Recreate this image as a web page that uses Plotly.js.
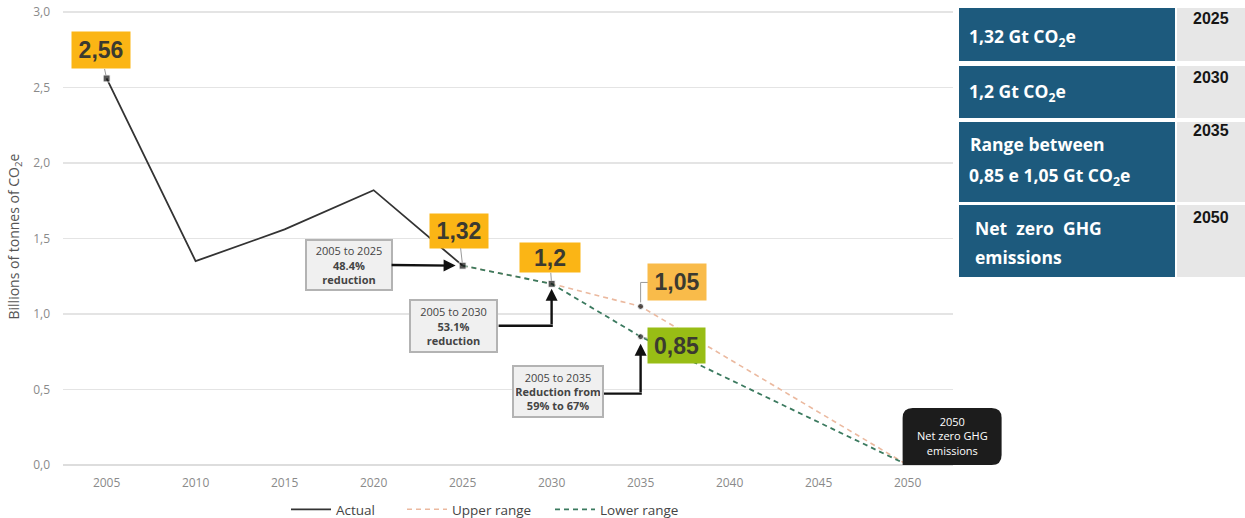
<!DOCTYPE html>
<html>
<head>
<meta charset="utf-8">
<script src="https://cdn.plot.ly/plotly-3.0.1.min.js"></script>
<style>
  html, body { margin: 0; padding: 0; background: #ffffff; }
  #chart { width: 1245px; height: 518px; }
</style>
</head>
<body>
<div id="chart"></div>
<script>
// ---- data ----
const actualYears = [2005, 2010, 2015, 2020, 2025];
const actualValues = [2.56, 1.35, 1.56, 1.82, 1.32];
const projYears = [2025, 2030, 2035, 2050];
const upperValues = [1.32, 1.2, 1.05, 0];
const lowerValues = [1.32, 1.2, 0.85, 0];
const tickYears = [2005, 2010, 2015, 2020, 2025, 2030, 2035, 2040, 2045, 2050];
const yTicks = [0, 0.5, 1.0, 1.5, 2.0, 2.5, 3.0];
const seriesNames = ['Actual', 'Upper range', 'Lower range'];
const baseYear = actualYears[0];
const baseValue = actualValues[0];

// ---- geometry / style ----
const W = 1245, H = 518;
const M = { l: 63, r: 292, t: 8, b: 53, autoexpand: false };
const PW = W - M.l - M.r;
const PH = H - M.t - M.b;
const X_RANGE = [2002.55, 2052.55];
const Y_RANGE = [0, 3.0265];
const px2paperX = px => (px - M.l) / PW;
const px2paperY = py => (H - M.b - py) / PH;
const d2paperX = v => (v - X_RANGE[0]) / (X_RANGE[1] - X_RANGE[0]);
const d2paperY = v => (v - Y_RANGE[0]) / (Y_RANGE[1] - Y_RANGE[0]);

const YELLOW = '#fbb515';
const ORANGE = '#f9bb4a';
const GREEN = '#98bd15';
const BLUE = '#1d5a7d';
const CELL_GREY = '#e7e7e7';
const LABEL_FONT = 'Liberation Sans, Arial, sans-serif';
const BODY_FONT = 'Open Sans, sans-serif';

const fmt = v => String(v).replace('.', ',');
const pct = (v, d) => (100 * (1 - v / baseValue)).toFixed(d);

// ---- traces ----
const actualTrace = {
  x: actualYears, y: actualValues, name: seriesNames[0], legend: 'legend',
  type: 'scatter', mode: 'lines',
  line: { color: '#333333', width: 1.8 }
};
const upperTrace = {
  x: projYears, y: upperValues, name: seriesNames[1], legend: 'legend2',
  type: 'scatter', mode: 'lines',
  line: { color: '#ebb99f', width: 1.6, dash: '5px,4px' }
};
const lowerTrace = {
  x: projYears, y: lowerValues, name: seriesNames[2], legend: 'legend3',
  type: 'scatter', mode: 'lines',
  line: { color: '#3b7a5f', width: 1.8, dash: '5px,4px' }
};
// point markers on the highlighted years
const markerTrace = {
  x: [actualYears[0], actualYears[4], projYears[1], projYears[2], projYears[2]],
  y: [actualValues[0], actualValues[4], lowerValues[1], upperValues[2], lowerValues[2]],
  type: 'scatter', mode: 'markers', showlegend: false, hoverinfo: 'skip',
  marker: { color: '#111111', size: [7, 7, 7, 6, 6],
            symbol: ['square', 'square', 'square', 'circle', 'circle'] }
};

// ---- value labels ----
const valueLabels = [
  { x: actualYears[0], y: actualValues[0], ax: -6, ay: -28, bg: YELLOW, w: 58, h: 36 },
  { x: actualYears[4], y: actualValues[4], ax: -4, ay: -35, bg: YELLOW, w: 58, h: 34 },
  { x: projYears[1], y: lowerValues[1], ax: -2, ay: -26, bg: YELLOW, w: 60, h: 29 },
];
const annotations = valueLabels.map(l => ({
  x: l.x, y: l.y, xref: 'x', yref: 'y',
  text: '<b>' + fmt(l.y) + '</b>',
  showarrow: true, arrowhead: 0, arrowwidth: 1, arrowcolor: '#9a9a9a',
  ax: l.ax, ay: l.ay, standoff: 3,
  bgcolor: l.bg, borderpad: 0, width: l.w, height: l.h,
  font: { family: LABEL_FONT, size: 23, color: '#3b3a30' }
}));
// 2035 range labels (upper leader drawn as an elbow shape)
annotations.push({
  x: projYears[2], y: upperValues[2], xref: 'x', yref: 'y',
  text: '<b>' + fmt(upperValues[2]) + '</b>', showarrow: false,
  xshift: 36, yshift: 24, bgcolor: ORANGE, borderpad: 0, width: 58, height: 36,
  font: { family: LABEL_FONT, size: 23, color: '#3b3a30' }
});
annotations.push({
  x: projYears[2], y: lowerValues[2], xref: 'x', yref: 'y',
  text: '<b>' + fmt(lowerValues[2]) + '</b>',
  showarrow: true, arrowhead: 0, arrowwidth: 1, arrowcolor: '#9a9a9a',
  ax: 36, ay: 9, standoff: 3,
  bgcolor: GREEN, borderpad: 0, width: 57, height: 35,
  font: { family: LABEL_FONT, size: 23, color: '#3b3a30' }
});

// ---- reduction callouts ----
const calloutStyle = {
  xref: 'x', yref: 'y', bgcolor: '#f0f0f0', bordercolor: '#b3b3b3',
  borderwidth: 2, borderpad: 2,
  font: { family: BODY_FONT, size: 11, color: '#444444' }
};
annotations.push(Object.assign({}, calloutStyle, {
  x: actualYears[4], y: actualValues[4],
  text: baseYear + ' to ' + actualYears[4] + '<br><b>' + pct(actualValues[4], 1) + '%</b><br><b>reduction</b>',
  showarrow: true, arrowhead: 2, arrowsize: 1, arrowwidth: 2.4, arrowcolor: '#111111',
  ax: -114, ay: -1, standoff: 7, width: 80, height: 44
}));
annotations.push(Object.assign({}, calloutStyle, {
  x: projYears[1], y: lowerValues[1],
  text: baseYear + ' to ' + projYears[1] + '<br><b>' + pct(lowerValues[1], 1) + '%</b><br><b>reduction</b>',
  showarrow: false, xshift: -98, yshift: -42, width: 81, height: 46
}));
annotations.push(Object.assign({}, calloutStyle, {
  x: projYears[2], y: lowerValues[2],
  text: baseYear + ' to ' + projYears[2] + '<br><b>Reduction from</b><br><b>' +
        pct(upperValues[2], 0) + '% to ' + pct(lowerValues[2], 0) + '%</b>',
  showarrow: false, xshift: -83, yshift: -55, width: 84, height: 45
}));
// vertical arrow legs of the elbow callouts
annotations.push({
  x: projYears[1], y: lowerValues[1], xref: 'x', yref: 'y', text: '',
  showarrow: true, arrowhead: 2, arrowsize: 1, arrowwidth: 2.4, arrowcolor: '#111111',
  ax: 0, ay: 42, standoff: 5
});
annotations.push({
  x: projYears[2], y: lowerValues[2], xref: 'x', yref: 'y', text: '',
  showarrow: true, arrowhead: 2, arrowsize: 1, arrowwidth: 2.4, arrowcolor: '#111111',
  ax: 0, ay: 57, standoff: 7
});

// ---- net zero badge ----
annotations.push({
  x: d2paperX(projYears[3]), y: d2paperY(lowerValues[3]), xref: 'paper', yref: 'paper',
  xanchor: 'center', yanchor: 'middle',
  text: projYears[3] + '<br>Net zero GHG<br>emissions', showarrow: false,
  xshift: 45, yshift: 29,
  font: { family: BODY_FONT, size: 11, color: '#ffffff' }
});

const shapes = [
  // elbow leg for the 2030 callout
  { type: 'line', xref: 'x', yref: 'y', xsizemode: 'pixel', ysizemode: 'pixel',
    xanchor: projYears[1], yanchor: lowerValues[1],
    x0: -53, x1: 1.2, y0: -42, y1: -42, line: { color: '#111111', width: 2.4 } },
  // elbow leg for the 2035 callout
  { type: 'line', xref: 'x', yref: 'y', xsizemode: 'pixel', ysizemode: 'pixel',
    xanchor: projYears[2], yanchor: lowerValues[2],
    x0: -37, x1: 1.2, y0: -57, y1: -57, line: { color: '#111111', width: 2.4 } },
  // elbow leader for the upper 2035 label
  { type: 'line', xref: 'x', yref: 'y', xsizemode: 'pixel', ysizemode: 'pixel',
    xanchor: projYears[2], yanchor: upperValues[2],
    x0: 0, x1: 0, y0: 4, y1: 24, line: { color: '#9a9a9a', width: 1 } },
  { type: 'line', xref: 'x', yref: 'y', xsizemode: 'pixel', ysizemode: 'pixel',
    xanchor: projYears[2], yanchor: upperValues[2],
    x0: 0, x1: 8, y0: 24, y1: 24, line: { color: '#9a9a9a', width: 1 } },
  // rounded badge behind the net zero text
  { type: 'path', xref: 'paper', yref: 'paper', xsizemode: 'pixel', ysizemode: 'pixel',
    xanchor: d2paperX(projYears[3]), yanchor: d2paperY(lowerValues[3]),
    path: 'M-5,0 L84,0 Q94,0 94,10 L94,47 Q94,57 84,57 L5,57 Q-5,57 -5,47 Z',
    fillcolor: '#1c1c1c', line: { width: 0 }, layer: 'above' }
];

// ---- side summary table ----
const tableRows = [
  { top: 8, bottom: 61, year: String(projYears[0]),
    lines: [{ t: fmt(actualValues[4]) + ' Gt CO<sub>2</sub>e', y: 37, x: 967 }], yearY: 19 },
  { top: 66, bottom: 118, year: String(projYears[1]),
    lines: [{ t: fmt(lowerValues[1]) + ' Gt CO<sub>2</sub>e', y: 93, x: 967 }], yearY: 77 },
  { top: 122, bottom: 202, year: String(projYears[2]),
    lines: [{ t: 'Range between', y: 144, x: 968 },
            { t: fmt(lowerValues[2]) + ' e ' + fmt(upperValues[2]) + ' Gt CO<sub>2</sub>e', y: 177, x: 967 }], yearY: 130 },
  { top: 205, bottom: 277, year: String(projYears[3]),
    lines: [{ t: 'Net&nbsp; zero&nbsp; GHG', y: 228, x: 973 },
            { t: 'emissions', y: 257, x: 973 }], yearY: 218 }
];
tableRows.forEach(r => {
  shapes.push({ type: 'rect', xref: 'paper', yref: 'paper',
    x0: px2paperX(959), x1: px2paperX(1175), y0: px2paperY(r.bottom), y1: px2paperY(r.top),
    fillcolor: BLUE, line: { width: 0 } });
  shapes.push({ type: 'rect', xref: 'paper', yref: 'paper',
    x0: px2paperX(1177), x1: px2paperX(1246), y0: px2paperY(r.bottom), y1: px2paperY(r.top),
    fillcolor: CELL_GREY, line: { width: 0 } });
  r.lines.forEach(l => annotations.push({
    xref: 'paper', yref: 'paper', x: px2paperX(l.x), y: px2paperY(l.y),
    xanchor: 'left', yanchor: 'middle', showarrow: false, text: '<b>' + l.t + '</b>',
    font: { family: BODY_FONT, size: 17.5, color: '#ffffff' }
  }));
  annotations.push({
    xref: 'paper', yref: 'paper', x: px2paperX(1211), y: px2paperY(r.yearY),
    xanchor: 'center', yanchor: 'middle', showarrow: false, text: '<b>' + r.year + '</b>',
    font: { family: LABEL_FONT, size: 16, color: '#161616' }
  });
});

// one legend box per series so each entry sits at its own spot
const legendBase = {
  orientation: 'h', xanchor: 'left', y: px2paperY(494), yanchor: 'top',
  itemwidth: 40,
  font: { family: BODY_FONT, size: 13.5, color: '#444444' },
  bgcolor: 'rgba(0,0,0,0)', borderwidth: 0
};

const layout = {
  width: W, height: H, margin: M,
  paper_bgcolor: '#ffffff', plot_bgcolor: '#ffffff',
  separators: ',.',
  font: { family: BODY_FONT, color: '#555555' },
  showlegend: true,
  legend: Object.assign({}, legendBase, { x: px2paperX(286) }),
  legend2: Object.assign({}, legendBase, { x: px2paperX(402) }),
  legend3: Object.assign({}, legendBase, { x: px2paperX(550) }),
  xaxis: {
    range: X_RANGE, tickvals: tickYears, ticktext: tickYears.map(String),
    showgrid: false, zeroline: false, showline: false, ticks: '',
    ticklabelstandoff: 9,
    tickfont: { family: BODY_FONT, size: 12, color: '#8a8a8a' }
  },
  yaxis: {
    range: Y_RANGE, tickvals: yTicks, tickformat: '.1f',
    showgrid: true, gridcolor: '#e4e4e4', gridwidth: 1.5,
    zeroline: true, zerolinecolor: '#dddddd', zerolinewidth: 2,
    showline: false, ticks: '', ticklabelstandoff: 12,
    tickfont: { family: BODY_FONT, size: 12, color: '#8a8a8a' },
    title: { text: 'Billions of tonnes of CO<sub>2</sub>e', standoff: 10,
             font: { family: BODY_FONT, size: 14, color: '#555555' } }
  },
  annotations: annotations,
  shapes: shapes
};

Plotly.newPlot('chart', [upperTrace, lowerTrace, actualTrace, markerTrace], layout,
  { displayModeBar: false, staticPlot: true });
</script>
</body>
</html>
